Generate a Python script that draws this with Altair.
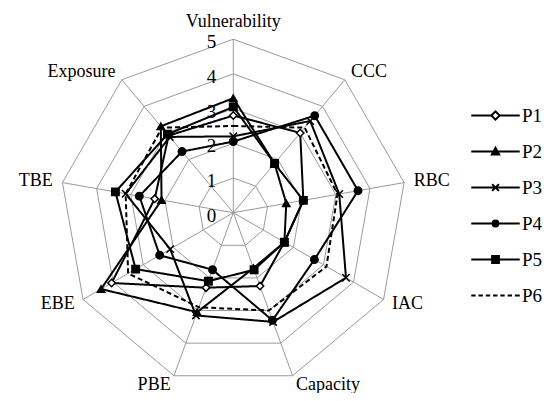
import altair as alt
import pandas as pd

axis_names = ["Vulnerability", "CCC", "RBC", "IAC", "Capacity", "PBE", "EBE", "TBE", "Exposure"]
series_names = ["P1", "P2", "P3", "P4", "P5", "P6"]
p1 = [2.8, 3.0, 2.05, 1.7, 2.25, 2.3, 4.05, 2.3, 2.9]
p2 = [3.3, 1.85, 1.55, 1.7, 1.7, 3.05, 4.4, 2.1, 3.25]
p3 = [2.2, 3.45, 3.1, 3.75, 3.35, 3.15, 2.1, 3.15, 2.85]
p4 = [2.05, 3.65, 3.65, 2.7, 3.3, 1.75, 2.45, 2.75, 2.3]
p5 = [3.05, 1.85, 2.05, 1.7, 1.75, 2.1, 3.25, 3.45, 2.95]
p6 = [2.5, 3.2, 3.05, 3.1, 3.0, 2.9, 3.5, 3.15, 3.2]
grid_levels = [1, 2, 3, 4, 5]
tick_values = [0, 1, 2, 3, 4, 5]

N = len(axis_names)
RMAX = 5
FONT = "Liberation Serif"

rows = []
for s, vals in zip(series_names, [p1, p2, p3, p4, p5, p6]):
    for i, v in enumerate(vals + [vals[0]]):
        rows.append({"series": s, "idx": i, "value": v})
df = pd.DataFrame(rows)

ring_rows = []
for lv in grid_levels:
    for i in range(N + 1):
        ring_rows.append({"level": lv, "idx": i, "value": lv})
rings = pd.DataFrame(ring_rows)

spokes = pd.DataFrame({"idx": list(range(N)), "label": axis_names, "value": [RMAX] * N})
ticks = pd.DataFrame({"value": tick_values, "label": [str(t) for t in tick_values]})

ANG = f"datum.idx * 2 * PI / {N}"
W, H = 537, 385
xs = alt.Scale(domain=[-6.493, 8.983], nice=False, zero=False)
ys = alt.Scale(domain=[-5.196, 5.899], nice=False, zero=False)


def polar(ch, r="datum.value"):
    return ch.transform_calculate(ang=ANG).transform_calculate(
        x=f"({r}) * sin(datum.ang)", y=f"({r}) * cos(datum.ang)")


X = alt.X("x:Q", scale=xs, axis=None)
Y = alt.Y("y:Q", scale=ys, axis=None)

ring_layer = polar(alt.Chart(rings)).mark_line(color="#9a9a9a", strokeWidth=1).encode(
    x=X, y=Y, detail="level:N", order="idx:Q")

spoke_layer = polar(alt.Chart(spokes)).transform_calculate(x0="0", y0="0").mark_rule(
    color="#9a9a9a", strokeWidth=1).encode(
    x=alt.X("x0:Q", scale=xs, axis=None), y=alt.Y("y0:Q", scale=ys, axis=None),
    x2="x:Q", y2="y:Q")

line_layer = polar(alt.Chart(df)).mark_line(color="black", strokeWidth=2).encode(
    x=X, y=Y, detail="series:N", order="idx:Q",
    strokeDash=alt.StrokeDash("series:N", scale=alt.Scale(
        domain=series_names, range=[[1, 0]] * 5 + [[5, 3]]), legend=None))

xpath = "M-1,-1L1,1M-1,1L1,-1"
point_layer = polar(alt.Chart(df)).transform_filter(
    "datum.idx < 9 && datum.series != 'P6'").mark_point(
    stroke="black", strokeWidth=1.5, opacity=1, size=55).encode(
    x=X, y=Y,
    shape=alt.Shape("series:N", scale=alt.Scale(
        domain=series_names[:5],
        range=["diamond", "triangle-up", xpath, "circle", "square"]), legend=None),
    fill=alt.Fill("series:N", scale=alt.Scale(
        domain=series_names[:5], range=["white", "black", "black", "black", "black"]), legend=None))

legend_paths = [
    "M-1,0H-0.17M0.17,0H1M-0.17,0L0,-0.17L0.17,0L0,0.17Z",
    "M-1,0H1M-0.15,0.12L0,-0.15L0.15,0.12Z",
    "M-1,0H1M-0.14,-0.14L0.14,0.14M-0.14,0.14L0.14,-0.14",
    "M-1,0H1M-0.12,0A0.12,0.12 0 1,0 0.12,0A0.12,0.12 0 1,0 -0.12,0Z",
    "M-1,0H1M-0.14,-0.14H0.14V0.14H-0.14Z",
    "M-1,0H-0.82M-0.7,0H-0.52M-0.4,0H-0.22M-0.1,0H0.08M0.2,0H0.38M0.5,0H0.68M0.8,0H1",
]
leg = alt.Legend(title=None, orient="none", legendX=462, legendY=82, padding=0,
                 symbolSize=2350, symbolStrokeWidth=2,
                 labelFont=FONT, labelFontSize=19, labelColor="black", labelOffset=1,
                 rowPadding=0, symbolOpacity=1)
legend_layer = alt.Chart(df).transform_filter("datum.idx > 100").mark_point(
    strokeWidth=2, opacity=1).encode(
    shape=alt.Shape("series:N", scale=alt.Scale(domain=series_names, range=legend_paths), legend=leg),
    fill=alt.Fill("series:N", scale=alt.Scale(
        domain=series_names, range=["white", "black", "black", "black", "black", "black"]), legend=leg),
    stroke=alt.Stroke("series:N", scale=alt.Scale(
        domain=series_names, range=["black"] * 6), legend=leg))

lab_base = polar(alt.Chart(spokes), r="datum.value + 0.28").transform_calculate(
    s=f"sin({ANG})")
lab_left = lab_base.transform_filter("datum.s > 0.01").mark_text(
    align="left", baseline="middle", font=FONT, fontSize=18, color="black").encode(
    x=X, y=Y, text="label:N")
lab_right = lab_base.transform_filter("datum.s < -0.01").mark_text(
    align="right", baseline="middle", font=FONT, fontSize=18, color="black").encode(
    x=X, y=Y, text="label:N")
lab_top = polar(alt.Chart(spokes), r="datum.value + 0.5").transform_filter(
    "datum.idx == 0").mark_text(
    align="center", baseline="middle", font=FONT, fontSize=18, color="black").encode(
    x=X, y=Y, text="label:N")

tick_layer = alt.Chart(ticks).transform_calculate(x0="0").mark_text(
    align="right", baseline="middle", dx=-17, dy=3, font=FONT, fontSize=19, color="black").encode(
    x=alt.X("x0:Q", scale=xs, axis=None), y=alt.Y("value:Q", scale=ys, axis=None), text="label:N")

chart = alt.layer(
    ring_layer, spoke_layer, tick_layer, line_layer, point_layer, legend_layer,
    lab_left, lab_right, lab_top
).resolve_scale(shape="independent", fill="independent", strokeDash="independent",
                stroke="independent").properties(
    width=W, height=H, autosize=alt.AutoSizeParams(type="none"), padding=0,
    background="white"
).configure(font=FONT).configure_text(font=FONT).configure_view(stroke=None)

chart.save("out.html", embed_options={"renderer": "svg", "actions": False})
